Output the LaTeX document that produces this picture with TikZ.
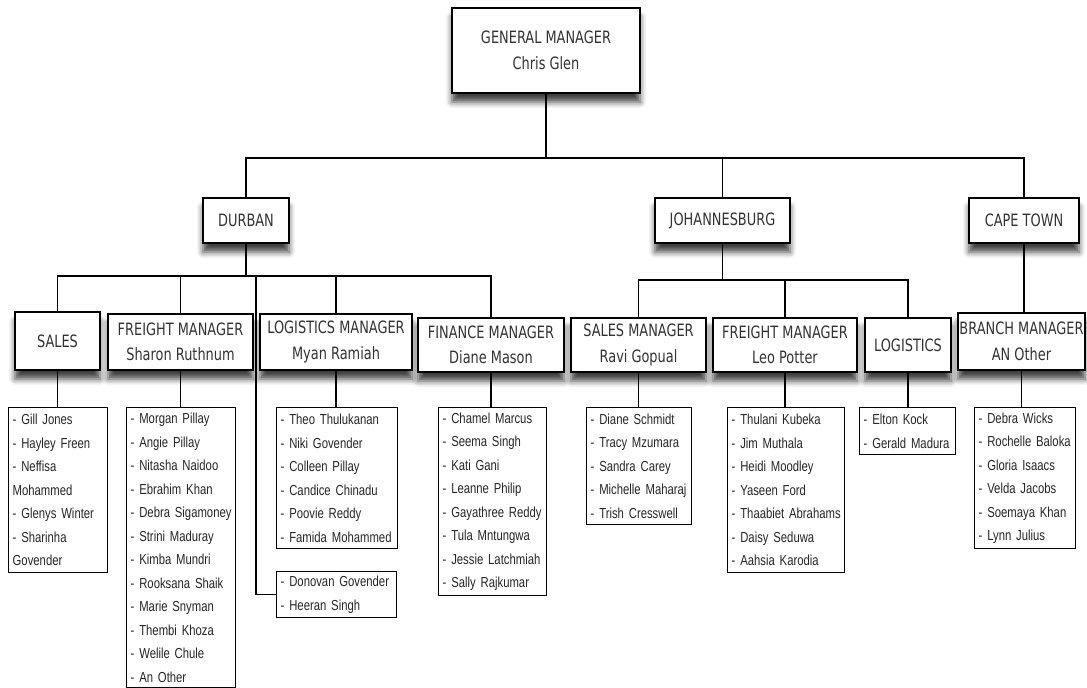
\documentclass[tikz,border=0pt]{standalone}
\usepackage{fontspec}
\usetikzlibrary{shadows.blur}
\newfontfamily\headfont[FakeStretch=0.76]{DejaVu Sans}
\newfontfamily\listfont[FakeStretch=0.78]{Liberation Sans}
\definecolor{inkgray}{HTML}{333333}
\newcommand\who[1]{\mbox{- #1}}
\begin{document}
\begin{tikzpicture}[x=1pt, y=-1pt, line width=1.4pt,
  headbox/.style={draw, fill=white, inner sep=0pt, align=center, text=inkgray,
    line width=2pt, font=\headfont\fontsize{17}{25.5}\selectfont,
    blur shadow={shadow xshift=0pt, shadow yshift=-9pt, shadow blur radius=6pt, shadow opacity=75}},
  listbox/.style={draw, fill=white, anchor=north west, inner xsep=4pt, inner ysep=0pt,
    align=left, text=black!85, font=\listfont\fontsize{14.5}{23.5}\selectfont}]

\useasboundingbox (0,0) rectangle (1087,688);

\node (gm) [headbox, minimum width=188, minimum height=85] at (546,50.5) {GENERAL MANAGER\\Chris Glen};

\node (durban) [headbox, minimum width=86, minimum height=45] at (246,220.5) {DURBAN};
\node (jhb) [headbox, minimum width=135, minimum height=45] at (722.5,220.5) {JOHANNESBURG};
\node (cpt) [headbox, minimum width=110, minimum height=45] at (1024,220.5) {CAPE TOWN};

\node (sales) [headbox, minimum width=85, minimum height=58] at (57.5,341) {SALES};
\node (frtdbn) [headbox, minimum width=145, minimum height=56] at (180.5,342) {FREIGHT MANAGER\\Sharon Ruthnum};
\node (logdbn) [headbox, minimum width=152, minimum height=56] at (336,342) {LOGISTICS MANAGER\\Myan Ramiah};
\node (findbn) [headbox, minimum width=146, minimum height=54] at (491,345) {FINANCE MANAGER\\Diane Mason};
\node (salesjhb) [headbox, minimum width=135, minimum height=54] at (638.5,345) {SALES MANAGER\\Ravi Gopual};
\node (frtjhb) [headbox, minimum width=144, minimum height=54] at (785,345) {FREIGHT MANAGER\\Leo Potter};
\node (logjhb) [headbox, minimum width=86, minimum height=54] at (908,345) {LOGISTICS};
\node (branch) [headbox, minimum width=127, minimum height=57] at (1021.5,341.5) {BRANCH MANAGER\\AN Other};

\node (lsales) [listbox, text width=91, minimum height=165] at (8,407)
  {\who{Gill Jones}\\\who{Hayley Freen}\\\who{Neffisa}\\Mohammed\\\who{Glenys Winter}\\\who{Sharinha}\\Govender};
\node (lfrtdbn) [listbox, text width=101, minimum height=280] at (126,407)
  {\who{Morgan Pillay}\\\who{Angie Pillay}\\\who{Nitasha Naidoo}\\\who{Ebrahim Khan}\\\who{Debra Sigamoney}\\\who{Strini Maduray}\\\who{Kimba Mundri}\\\who{Rooksana Shaik}\\\who{Marie Snyman}\\\who{Thembi Khoza}\\\who{Welile Chule}\\\who{An Other}};
\node (llogdbn) [listbox, text width=113, minimum height=141] at (276,407)
  {\who{Theo Thulukanan}\\\who{Niki Govender}\\\who{Colleen Pillay}\\\who{Candice Chinadu}\\\who{Poovie Reddy}\\\who{Famida Mohammed}};
\node (donovan) [listbox, text width=112, minimum height=46] at (276,571)
  {\who{Donovan Govender}\\\who{Heeran Singh}};
\node (lfindbn) [listbox, text width=100, minimum height=188] at (438,407)
  {\who{Chamel Marcus}\\\who{Seema Singh}\\\who{Kati Gani}\\\who{Leanne Philip}\\\who{Gayathree Reddy}\\\who{Tula Mntungwa}\\\who{Jessie Latchmiah}\\\who{Sally Rajkumar}};
\node (lsalesjhb) [listbox, text width=97, minimum height=117] at (586,407)
  {\who{Diane Schmidt}\\\who{Tracy Mzumara}\\\who{Sandra Carey}\\\who{Michelle Maharaj}\\\who{Trish Cresswell}};
\node (lfrtjhb) [listbox, text width=109, minimum height=165] at (727,407)
  {\who{Thulani Kubeka}\\\who{Jim Muthala}\\\who{Heidi Moodley}\\\who{Yaseen Ford}\\\who{Thaabiet Abrahams}\\\who{Daisy Seduwa}\\\who{Aahsia Karodia}};
\node (llogjhb) [listbox, text width=88, minimum height=47] at (859,407)
  {\who{Elton Kock}\\\who{Gerald Madura}};
\node (lbranch) [listbox, text width=93, minimum height=141] at (974,407)
  {\who{Debra Wicks}\\\who{Rochelle Baloka}\\\who{Gloria Isaacs}\\\who{Velda Jacobs}\\\who{Soemaya Khan}\\\who{Lynn Julius}};

\coordinate (mainbus) at (546,158);
\draw (gm.south) -- (mainbus);
\draw (mainbus) -| (durban.north);
\draw (mainbus) -| (jhb.north);
\draw (mainbus) -| (cpt.north);

\coordinate (dbnbus) at (246,276);
\draw (durban.south) -- (dbnbus);
\draw (dbnbus) -| (sales.north);
\draw (dbnbus) -| (frtdbn.north);
\draw (dbnbus) -| (logdbn.north);
\draw (dbnbus) -| (findbn.north);
\draw (dbnbus) -| ([xshift=-20pt]donovan.west) -- (donovan.west);

\coordinate (jhbbus) at (722.5,280);
\draw (jhb.south) -- (jhbbus);
\draw (jhbbus) -| (salesjhb.north);
\draw (jhbbus) -| (frtjhb.north);
\draw (jhbbus) -| (logjhb.north);

\draw (cpt.south) -- (cpt.south |- branch.north);

\draw (sales.south) -- (sales.south |- lsales.north);
\draw (frtdbn.south) -- (frtdbn.south |- lfrtdbn.north);
\draw (logdbn.south) -- (logdbn.south |- llogdbn.north);
\draw (findbn.south) -- (findbn.south |- lfindbn.north);
\draw (salesjhb.south) -- (salesjhb.south |- lsalesjhb.north);
\draw (frtjhb.south) -- (frtjhb.south |- lfrtjhb.north);
\draw (logjhb.south) -- (logjhb.south |- llogjhb.north);
\draw (branch.south) -- (branch.south |- lbranch.north);

\end{tikzpicture}
\end{document}
